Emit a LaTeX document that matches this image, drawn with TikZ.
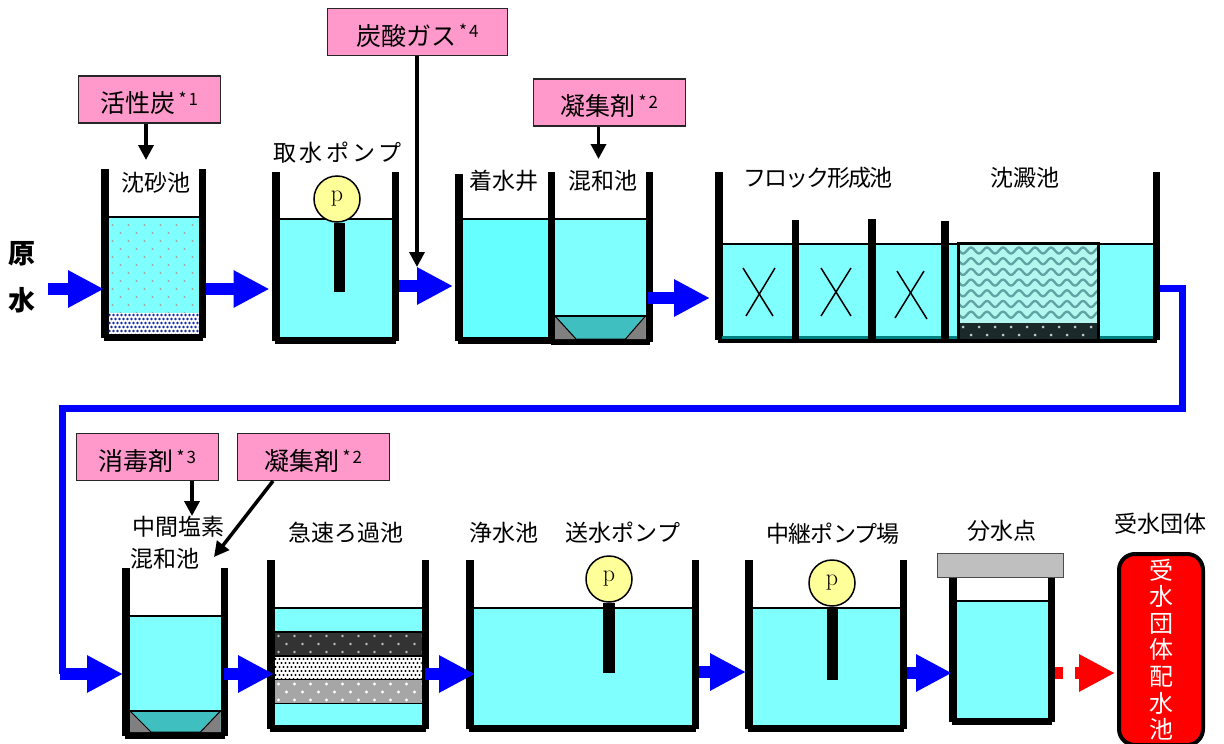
\documentclass[tikz,border=0pt]{standalone}
\usepackage{fontspec}
\usetikzlibrary{arrows.meta}
\newfontfamily\jpfont{Noto Sans CJK JP}
\definecolor{waterc}{HTML}{80FFFF}
\definecolor{waterd}{HTML}{66FFFF}
\definecolor{pinkc}{HTML}{FF99CC}
\definecolor{pumpc}{HTML}{FFFF99}
\definecolor{troughc}{HTML}{40BFC0}
\definecolor{mudc}{HTML}{008080}
\definecolor{wavebg}{HTML}{B3F7F0}
\definecolor{wavec}{HTML}{5FA3A3}
\definecolor{sedimc}{HTML}{1A2A2A}
\definecolor{sandc}{HTML}{1A2CA8}
\tikzset{
	wall/.style={line width=7.5pt},
	waterline/.style={line width=1.5pt},
	lbl/.style={font=\jpfont\fontsize{23}{23}\selectfont, inner sep=0pt},
	notebox/.style={draw=black!85, fill=pinkc, line width=1.5pt, minimum width=142pt, minimum height=47pt, inner sep=0pt, text height=26pt, text depth=0pt, font=\jpfont\fontsize{25}{25}\selectfont},
	feed/.style={-{Triangle[length=15pt,width=15pt]}, line width=3.5pt},
	flow/.style={-{Triangle[length=36pt,width=35pt]}, line width=12pt, blue},
	pump/.style={circle, draw, fill=pumpc, line width=1.5pt, minimum size=46pt, inner sep=0pt, font=\fontsize{24}{24}\selectfont},
	pipe/.style={line width=11.5pt},
	mixer/.style={line width=1.5pt}
}
\newcommand*\tank[6][waterc]{%
	\fill[#1] (#2+7,#6) rectangle (#3-7,#5-5);
	\draw[waterline] (#2+7,#6) -- (#3-7,#6);
	\draw[wall] (#2+3.75,#4) -- (#2+3.75,#5-3);
	\draw[wall] (#3-3.75,#4) -- (#3-3.75,#5-3);
	\draw[wall] (#2+3,#5-3.75) -- (#3-3,#5-3.75);
}
% xl, yt, xr, yb, step x, step y, radius, colour
\newcommand*\dotfield[8]{%
	\begin{scope}
		\clip (#1,#2) rectangle (#3,#4);
		\pgfmathtruncatemacro\ncols{(#3-#1)/#5}
		\pgfmathtruncatemacro\nrows{(#4-#2)/#6}
		\foreach \j in {0,...,\nrows} {
			\pgfmathsetmacro\rowshift{mod(\j,2)*#5/2}
			\foreach \i in {0,...,\ncols}
				\fill[#8] ({#1+#5/4+\rowshift+\i*#5},{#2+#6/2+\j*#6}) circle (#7);
		}
	\end{scope}
}
\newcommand*\trough[4]{%
	\fill[troughc] (#1,#2) rectangle (#3,#4);
	\fill[black!50] (#1,#2) -- (#1+21,#4) -- (#1,#4) -- cycle;
	\fill[black!50] (#3,#2) -- (#3-20,#4) -- (#3,#4) -- cycle;
	\draw[line width=1pt] (#1,#2) -- (#1+21,#4) -- (#3-20,#4) -- (#3,#2);
	\draw[waterline] (#1,#2) -- (#3,#2);
}
\newcommand*\starmark[1]{\smash{\raisebox{7pt}{\fontsize{17}{17}\selectfont\,*\hspace{2pt}#1}}}

\begin{document}
\begin{tikzpicture}[x=1pt,y=-1pt]
	\useasboundingbox (0,0) rectangle (1224,744);

	% Upper row of basins
	\tank{101}{206}{169}{341}{217}
	\dotfield{108.5}{221}{198.5}{313}{16}{8}{1.1}{black!35}
	\fill[white] (108.5,313) rectangle (198.5,333.5);
	\dotfield{108.5}{313}{198.5}{333.5}{4}{4}{1.3}{sandc}
	\tank{272}{399}{172}{344}{219}
	\tank[waterd]{455}{555}{174}{344}{219}
	\tank{547.5}{653}{172}{345}{219}
	\trough{555}{316}{645.5}{339}
	\tank{715}{1160}{172}{343}{244}
	\fill[mudc] (722,336) rectangle (1152.5,339);
	\foreach \x/\ytop in {795.5/220, 872/219, 945/221}
		\draw[wall] (\x,\ytop) -- (\x,341);
	\foreach \xa/\ya/\xb/\yb in {743/268/773/316, 775/268/746/316, 821/268/851/316, 851/268/821/316, 897/271/927/319, 924/271/895/318}
		\draw[mixer] (\xa,\ya) -- (\xb,\yb);

	% Settling part
	\fill[wavebg] (959,244) rectangle (1098,323);
	\begin{scope}
		\clip (959,245) rectangle (1098,323);
		\foreach \y in {250.5,261.2,271.9,282.6,293.3,304,314.7}
			\draw[line width=2.3pt, wavec, domain=0:139, samples=120] plot ({959+\x},{\y+3*sin(22.5*\x)});
	\end{scope}
	\fill[sedimc] (959,323) rectangle (1098,339);
	\dotfield{959}{323}{1098}{339}{16}{8}{1.5}{white!80!black}
	\draw[line width=3pt] (958.5,243.5) rectangle (1098.5,340);

	% Lower row of basins
	\tank{122}{228}{568}{739}{616}
	\trough{130}{711}{220.5}{732}
	\tank{267}{429}{560}{732}{608}
	\fill[black!80] (274.5,632) rectangle (421.5,655);
	\dotfield{274.5}{632}{421.5}{655}{16}{8}{1.4}{black!25}
	\fill[white] (274.5,657) rectangle (421.5,679);
	\dotfield{274.5}{657}{421.5}{679}{4}{4}{1.2}{black}
	\fill[black!35] (274.5,680) rectangle (421.5,703);
	\dotfield{274.5}{680}{421.5}{703}{16}{8}{1.6}{white}
	\foreach \y in {632,656,679.5,703.5}
		\draw[waterline] (274.5,\y) -- (421.5,\y);
	\tank{466}{699}{560}{732}{608}
	\tank{745}{907}{560}{732}{608}
	\tank{949}{1055}{577}{725}{601}
	\fill[black!25, draw=black!70, line width=1pt] (937.5,553.5) rectangle (1063.5,577);

	% Pumps
	\node[pump] (pumpa) at (337,199) {p};
	\node[pump] (pumpb) at (609,579) {p};
	\node[pump] (pumpc) at (832,583) {p};
	\coordinate (pipea) at (339.5,292);
	\coordinate (pipeb) at (609,673);
	\coordinate (pipec) at (832.5,680);
	\draw[pipe] (pumpa.south -| pipea) -- (pipea);
	\draw[pipe] (pumpb.south -| pipeb) -- (pipeb);
	\draw[pipe] (pumpc.south -| pipec) -- (pipec);

	% Receiving tank
	\node[draw, fill=red, line width=4pt, rounded corners=16pt, minimum width=84pt, minimum height=191pt, inner sep=0pt, align=center, text=white, font=\jpfont\fontsize{24}{26.6}\selectfont] (recv) at (1161,649.5) {受\\水\\団\\体\\配\\水\\池};

	% Dosing boxes
	\node[notebox] (cactive) at (149.5,99.5) {活性炭\starmark{1}};
	\node[notebox, minimum width=180pt] (cdiox) at (417.5,32) {炭酸ガス\starmark{4}};
	\node[notebox, minimum width=152pt] (cfloca) at (609.5,102.5) {凝集剤\starmark{2}};
	\node[notebox] (cdisin) at (147.5,457) {消毒剤\starmark{3}};
	\node[notebox, minimum width=152pt] (cflocb) at (313.5,457) {凝集剤\starmark{2}};
	\coordinate (dactive) at (146,160);
	\coordinate (ddiox) at (417,267);
	\coordinate (dfloca) at (598.5,159);
	\coordinate (ddisin) at (192,516);
	\coordinate (sflocb) at (273,481);
	\coordinate (dflocb) at (214,557);
	\draw[feed] (cactive.south -| dactive) -- (dactive);
	\draw[feed] (cdiox.south -| ddiox) -- (ddiox);
	\draw[feed] (cfloca.south -| dfloca) -- (dfloca);
	\draw[feed] (cdisin.south -| ddisin) -- (ddisin);
	\draw[feed] (sflocb) -- (dflocb);

	% Flow arrows
	\foreach \name/\xa/\xb/\y in {a/48/104/289, b/206/269.5/289, c/399/453/286, d/648/710/298, e/224/274/674, f/425/475/674, g/699/746/672, h/907/952/673} {
		\coordinate (from\name) at (\xa,\y);
		\coordinate (to\name) at (\xb,\y);
		\draw[flow] (from\name) -- (to\name);
	}
	\coordinate (outa) at (1160,288.5);
	\coordinate (ina) at (123,674);
	\draw[line width=7pt, blue] (outa) -- (1182,288.5) -- (1182,408) -- (62.5,408) -- (62.5,674);
	\draw[flow] (60,674) -- (ina);
	\coordinate (redout) at (1055,673);
	\coordinate (redgap) at (1063,673);
	\coordinate (redin) at (1075,673);
	\coordinate (redto) at (1115,673);
	\draw[line width=12pt, red] (redout) -- (redgap);
	\draw[flow, red] (redin) -- (redto);

	% Labels
	\node[inner sep=0pt, font=\jpfont\bfseries\fontsize{27}{27}\selectfont] (lraw) at (22,254) {原};
	\node[inner sep=0pt, font=\jpfont\bfseries\fontsize{27}{27}\selectfont] (lwat) at (22,300) {水};
	\node[lbl] (lsand) at (156,183) {沈砂池};
	\node[lbl] (lintake) at (337.5,153) {\addfontfeature{LetterSpace=15}取水ポンプ};
	\node[lbl] (lwell) at (504,181) {着水井};
	\node[lbl] (lmixa) at (602.5,181) {混和池};
	\node[lbl] (lfloc) at (818,178) {\addfontfeature{LetterSpace=-9}フロック形成池};
	\node[lbl] (lsettle) at (1025,178) {沈澱池};
	\node[lbl] (lchlor) at (178,527) {中間塩素};
	\node[lbl] (lmixb) at (165,559) {混和池};
	\node[lbl] (lfilter) at (346,533) {急速ろ過池};
	\node[lbl] (lclean) at (504,533) {浄水池};
	\node[lbl] (lsend) at (623,533) {送水ポンプ};
	\node[lbl] (lrelay) at (833,534) {\addfontfeature{LetterSpace=-3}中継ポンプ場};
	\node[lbl] (lsplit) at (1002,531) {分水点};
	\node[lbl] (lrecv) at (1160,524) {受水団体};
\end{tikzpicture}
\end{document}
